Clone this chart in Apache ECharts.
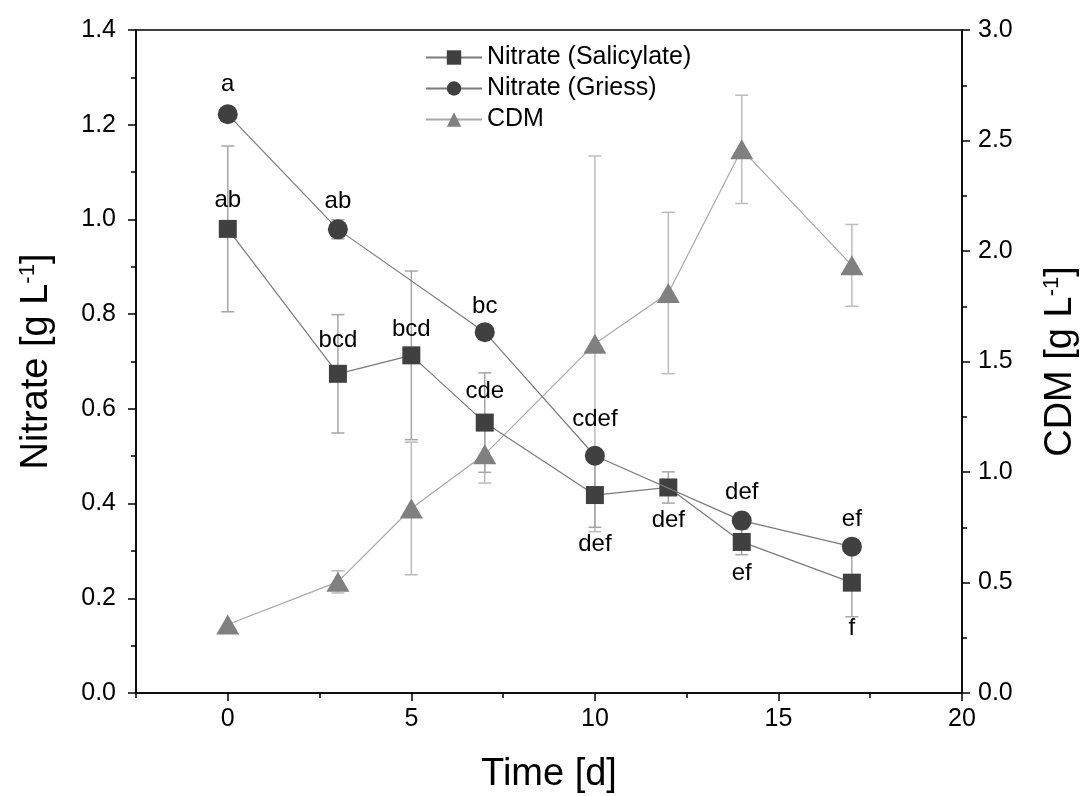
<!DOCTYPE html>
<html>
<head>
<meta charset="utf-8">
<script src="https://cdn.jsdelivr.net/npm/echarts@6/dist/echarts.min.js"></script>
<style>html,body{margin:0;padding:0;background:#fff}#c{width:1084px;height:796px}</style>
</head>
<body>
<div id="c"></div>
<script>
// ---- data ----
const days = [0, 3, 5, 7, 10, 12, 14, 17];
const salicylate = [0.98, 0.674, 0.713, 0.571, 0.418, 0.434, 0.319, 0.233];
const salicylateErr = [0.175, 0.125, 0.178, 0.105, 0.068, 0.033, 0.027, 0.072];
const salicylateLetters = ['ab', 'bcd', 'bcd', 'cde', 'def', 'def', 'ef', 'f'];

const griessDays = [0, 3, 7, 10, 14, 17];
const griess = [1.222, 0.979, 0.762, 0.501, 0.364, 0.309];
const griessErr = [0.008, 0.02, 0.01, 0.01, 0.017, 0.01];
const griessLetters = ['a', 'ab', 'bc', 'cdef', 'def', 'ef'];

const cdm = [0.31, 0.503, 0.835, 1.08, 1.58, 1.81, 2.46, 1.935];
const cdmErr = [0, 0.05, 0.30, 0.13, 0.85, 0.365, 0.245, 0.185];

const xMajorTicks = [0, 5, 10, 15, 20];
const xMinorTicks = [-2.5, 2.5, 7.5, 12.5, 17.5];

// ---- style (label placement) ----
const salLabelPos = ['top', 'top', 'top', 'top', 'bottom', 'bottom', 'bottom', 'bottom'];
const salLabelDist = [8, 12, 5, 10, 28, 12, 10, 25];
const griLabelDist = [8, 6, 4, 14, 6, 5];

const FONT = "'Liberation Sans', Arial, sans-serif";
const darkMarker = '#404040';
const nitLine = '#7a7a7a';
const cdmMarker = '#808080';
const cdmLine = '#a8a8a8';
const errColor = '#a6a6a6';
const cdmErrColor = '#bcbcbc';

function errSeries(name, xs, ys, es, yAxisIndex, color) {
  return {
    name: name, type: 'custom', xAxisIndex: 0, yAxisIndex: yAxisIndex, z: 1,
    silent: true,
    data: xs.map((x, i) => [x, ys[i], es[i]]),
    encode: { x: 0, y: 1 },
    renderItem: function (params, api) {
      const x = api.value(0), y = api.value(1), e = api.value(2);
      if (!e) return null;
      const hi = api.coord([x, y + e]);
      const lo = api.coord([x, y - e]);
      const hw = 6.5;
      const st = { stroke: color, lineWidth: 1.5 };
      return {
        type: 'group',
        children: [
          { type: 'line', shape: { x1: hi[0], y1: hi[1], x2: lo[0], y2: lo[1] }, style: st },
          { type: 'line', shape: { x1: hi[0] - hw, y1: hi[1], x2: hi[0] + hw, y2: hi[1] }, style: st },
          { type: 'line', shape: { x1: lo[0] - hw, y1: lo[1], x2: lo[0] + hw, y2: lo[1] }, style: st }
        ]
      };
    }
  };
}

const labelStyle = { show: true, color: '#000', fontSize: 24, fontFamily: FONT };
const titleStyle = {
  fontSize: 38, color: '#000', fontFamily: FONT,
  rich: { sup: { fontSize: 22, verticalAlign: 'top', padding: [0, 0, 17, 0], color: '#000', fontFamily: FONT } }
};

const chart = echarts.init(document.getElementById('c'), null, { renderer: 'canvas' });
chart.setOption({
  animation: false,
  backgroundColor: '#fff',
  textStyle: { fontFamily: FONT },
  grid: {
    left: 136, right: 122, top: 30, bottom: 103, containLabel: false, outerBoundsMode: 'none',
    show: true, borderColor: '#000', borderWidth: 1.5, backgroundColor: 'transparent'
  },
  legend: {
    orient: 'vertical', left: 420, top: 40,
    itemWidth: 56, itemHeight: 18, itemGap: 6,
    textStyle: { fontSize: 25, color: '#000', fontFamily: FONT, lineHeight: 25 },
    data: ['Nitrate (Salicylate)', 'Nitrate (Griess)', 'CDM']
  },
  xAxis: [
    {
      type: 'value', min: -2.5, max: 20, interval: 2.5, position: 'bottom',
      name: 'Time [d]', nameLocation: 'middle', nameGap: 63,
      nameTextStyle: titleStyle,
      axisLine: { show: true, onZero: false, lineStyle: { color: '#000', width: 1.5 } },
      axisTick: { show: true, inside: false, length: 8, customValues: xMajorTicks, lineStyle: { color: '#000', width: 1.5 } },
      axisLabel: { show: true, customValues: xMajorTicks, fontSize: 25, color: '#000', margin: 14, fontFamily: FONT },
      splitLine: { show: false }
    },
    {
      type: 'value', min: -2.5, max: 20, interval: 2.5, position: 'bottom', gridIndex: 0,
      axisLine: { show: false },
      axisTick: { show: true, inside: false, length: 5, customValues: xMinorTicks, lineStyle: { color: '#000', width: 1.5 } },
      axisLabel: { show: false },
      splitLine: { show: false }
    }
  ],
  yAxis: [
    {
      type: 'value', min: 0, max: 1.4, interval: 0.2, position: 'left',
      name: 'Nitrate [g L{sup|-1}]', nameLocation: 'middle', nameGap: 80, nameRotate: 90,
      nameTextStyle: titleStyle,
      axisLine: { show: true, onZero: false, lineStyle: { color: '#000', width: 1.5 } },
      axisTick: { show: true, inside: false, length: 8, lineStyle: { color: '#000', width: 1.5 } },
      minorTick: { show: true, splitNumber: 2, length: 5, lineStyle: { color: '#000', width: 1.5 } },
      axisLabel: { fontSize: 25, color: '#000', margin: 20, fontFamily: FONT, formatter: v => v.toFixed(1) },
      splitLine: { show: false }
    },
    {
      type: 'value', min: 0, max: 3, interval: 0.5, position: 'right',
      name: 'CDM [g L{sup|-1}]', nameLocation: 'middle', nameGap: 79, nameRotate: 90,
      nameTextStyle: titleStyle,
      axisLine: { show: true, onZero: false, lineStyle: { color: '#000', width: 1.5 } },
      axisTick: { show: true, inside: false, length: 8, lineStyle: { color: '#000', width: 1.5 } },
      minorTick: { show: true, splitNumber: 2, length: 5, lineStyle: { color: '#000', width: 1.5 } },
      axisLabel: { fontSize: 25, color: '#000', margin: 16, fontFamily: FONT, formatter: v => v.toFixed(1) },
      splitLine: { show: false }
    }
  ],
  series: [
    errSeries('errCDM', days, cdm, cdmErr, 1, cdmErrColor),
    errSeries('errSal', days, salicylate, salicylateErr, 0, errColor),
    errSeries('errGri', griessDays, griess, griessErr, 0, errColor),
    {
      name: 'CDM', type: 'line', xAxisIndex: 0, yAxisIndex: 1, z: 3,
      symbol: 'triangle', symbolSize: [23, 20],
      itemStyle: { color: cdmMarker },
      lineStyle: { color: cdmLine, width: 1.2 },
      data: days.map((d, i) => [d, cdm[i]])
    },
    {
      name: 'Nitrate (Salicylate)', type: 'line', xAxisIndex: 0, yAxisIndex: 0, z: 4,
      symbol: 'rect', symbolSize: 18,
      itemStyle: { color: darkMarker },
      lineStyle: { color: nitLine, width: 1.2 },
      data: days.map((d, i) => ({
        value: [d, salicylate[i]],
        label: Object.assign({}, labelStyle, { formatter: salicylateLetters[i], position: salLabelPos[i], distance: salLabelDist[i] })
      }))
    },
    {
      name: 'Nitrate (Griess)', type: 'line', xAxisIndex: 0, yAxisIndex: 0, z: 5,
      symbol: 'circle', symbolSize: 20,
      itemStyle: { color: darkMarker },
      lineStyle: { color: nitLine, width: 1.2 },
      data: griessDays.map((d, i) => ({
        value: [d, griess[i]],
        label: Object.assign({}, labelStyle, { formatter: griessLetters[i], position: 'top', distance: griLabelDist[i] })
      }))
    }
  ]
});
</script>
</body>
</html>
